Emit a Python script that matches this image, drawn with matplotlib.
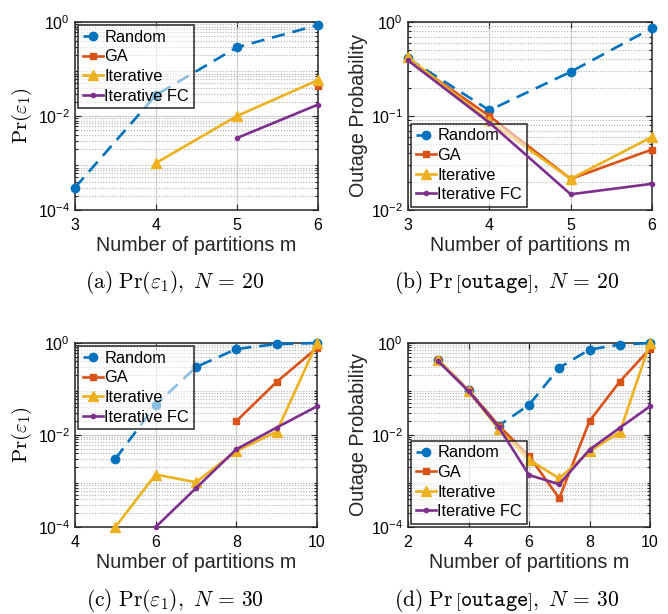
import matplotlib
matplotlib.use("Agg")
import matplotlib.pyplot as plt
from matplotlib.ticker import FixedLocator, FixedFormatter, LogLocator, NullFormatter

plt.rcParams['font.family'] = ['Liberation Sans', 'DejaVu Sans']
plt.rcParams['mathtext.fontset'] = 'custom'
plt.rcParams['mathtext.rm'] = 'Liberation Sans'
plt.rcParams['mathtext.it'] = 'Liberation Sans:italic'
plt.rcParams['mathtext.bf'] = 'Liberation Sans:bold'

# ---------------- data ----------------
series_names = ["Random", "GA", "Iterative", "Iterative FC"]

# (a) Pr(eps1), N=20
a_random_m = [3, 4, 5, 6]
a_random = [3e-4, 0.028, 0.29, 0.86]
a_ga_m = [6]
a_ga = [0.043]
a_iter_m = [4, 5, 6]
a_iter = [1e-3, 0.01, 0.058]
a_fc_m = [5, 6]
a_fc = [0.0034, 0.0175]

# (b) outage, N=20
b_m = [3, 4, 5, 6]
b_random = [0.41, 0.115, 0.295, 0.86]
b_ga = [0.40, 0.10, 0.0214, 0.044]
b_iter = [0.42, 0.088, 0.0214, 0.06]
b_fc = [0.39, 0.085, 0.0147, 0.019]

# (c) Pr(eps1), N=30
c_random_m = [5, 6, 7, 8, 9, 10]
c_random = [0.003, 0.045, 0.30, 0.74, 0.95, 1.0]
c_ga_m = [8, 9, 10]
c_ga = [0.020, 0.143, 0.78]
c_iter_m = [5, 6, 7, 8, 9, 10]
c_iter = [1e-4, 0.00138, 0.00094, 0.0045, 0.0118, 1.0]
c_fc_m = [6, 7, 8, 9, 10]
c_fc = [1e-4, 7e-4, 0.0049, 0.0145, 0.042]

# (d) outage, N=30
d_m = [3, 4, 5, 6, 7, 8, 9, 10]
d_random = [0.42, 0.093, 0.016, 0.045, 0.29, 0.72, 0.92, 1.0]
d_ga = [0.42, 0.093, 0.016, 0.0035, 4.2e-4, 0.02, 0.145, 0.75]
d_iter = [0.43, 0.09, 0.0135, 0.0029, 0.00114, 0.0044, 0.0115, 1.0]
d_fc = [0.40, 0.09, 0.0147, 0.00135, 8.5e-4, 0.0048, 0.0143, 0.042]

xticks_ab = [3, 4, 5, 6]
xticks_c = [4, 6, 8, 10]
xticks_d = [2, 4, 6, 8, 10]
yticks_4dec = [1e-4, 1e-2, 1e0]
yticklabels_4dec = ["$10^{-4}$", "$10^{-2}$", "$10^{0}$"]
yticks_2dec = [1e-2, 1e-1, 1e0]
yticklabels_2dec = ["$10^{-2}$", "$10^{-1}$", "$10^{0}$"]

captions = [r"$\mathrm{(a)\ Pr}(\varepsilon_1),\ N\,=\,20$",
            r"$\mathrm{(b)\ Pr}\,\left[\mathtt{outage}\right],\ N\,=\,20$",
            r"$\mathrm{(c)\ Pr}(\varepsilon_1),\ N\,=\,30$",
            r"$\mathrm{(d)\ Pr}\,\left[\mathtt{outage}\right],\ N\,=\,30$"]

# ---------------- style ----------------
C_BLUE = "#0072BD"
C_ORANGE = "#D95319"
C_YELLOW = "#EDB120"
C_PURPLE = "#7E2F8E"
LW = 1.9

W, H = 668, 614
fig = plt.figure(figsize=(W / 100, H / 100), dpi=100)


def ax_at(l, r, t, b):
    return fig.add_axes([l / W, 1 - b / H, (r - l) / W, (b - t) / H])


def draw(ax, rnd, ga, it, fc):
    ax.plot(*rnd, color=C_BLUE, lw=LW, ls=(0, (5, 3)), marker='o', ms=6,
            label=series_names[0], clip_on=False, zorder=3)
    ax.plot(*ga, color=C_ORANGE, lw=LW, marker='s', ms=5,
            label=series_names[1], clip_on=False, zorder=4)
    ax.plot(*it, color=C_YELLOW, lw=LW, marker='^', ms=7.5,
            label=series_names[2], clip_on=False, zorder=5)
    ax.plot(*fc, color=C_PURPLE, lw=LW, marker='o', ms=3,
            label=series_names[3], clip_on=False, zorder=6)


def style(ax, xlim, xticks, ylim, yticks, yticklabels, ylabel, math_ylabel,
          caption, cap_x, cap_y, legloc):
    ax.set_yscale('log')
    ax.set_xlim(*xlim)
    ax.set_ylim(*ylim)
    ax.xaxis.set_major_locator(FixedLocator(xticks))
    ax.set_xticklabels([str(v) for v in xticks])
    ax.yaxis.set_major_locator(FixedLocator(yticks))
    ax.yaxis.set_major_formatter(FixedFormatter(yticklabels))
    ax.yaxis.set_minor_locator(LogLocator(base=10, subs=range(2, 10), numticks=20))
    ax.yaxis.set_minor_formatter(NullFormatter())
    ax.grid(True, which='major', color='#d0d0d0', lw=0.9, ls='-')
    ax.grid(True, which='minor', axis='y', color='#b0b0b0', lw=0.8, ls=(0, (1, 1.5)))
    ax.set_axisbelow(True)
    ax.tick_params(which='both', direction='in', top=True, right=True,
                   labelsize=11.5, width=0.8, color='#262626')
    ax.tick_params(which='major', length=4)
    ax.tick_params(which='minor', length=2)
    ax.tick_params(axis='x', pad=6)
    for s in ax.spines.values():
        s.set_linewidth(1.1)
        s.set_color('#262626')
    ax.set_xlabel("Number of partitions m", fontsize=14.2, labelpad=2, color='#262626')
    if math_ylabel:
        ax.set_ylabel(ylabel, fontsize=15, math_fontfamily='cm', labelpad=3)
    else:
        ax.set_ylabel(ylabel, fontsize=14.2, labelpad=2, color='#262626')
    fig.text(cap_x / W, 1 - cap_y / H, caption, ha='center', va='center',
             fontsize=15.5, math_fontfamily='cm')
    leg = ax.legend(loc=legloc, fontsize=11.8, handlelength=1.2, handletextpad=0.1,
                    labelspacing=0.28, borderpad=0.28, borderaxespad=0.2,
                    fancybox=False, edgecolor='#262626')
    fr = leg.get_frame()
    fr.set_alpha(None)
    fr.set_facecolor((1, 1, 1, 0.55))
    fr.set_edgecolor('#262626')
    fr.set_linewidth(1.1)


axa = ax_at(75, 318, 22, 210)
draw(axa, (a_random_m, a_random), (a_ga_m, a_ga), (a_iter_m, a_iter), (a_fc_m, a_fc))
style(axa, (3, 6), xticks_ab, (1e-4, 1), yticks_4dec, yticklabels_4dec,
      r"$\mathrm{Pr}(\varepsilon_1)$", True, captions[0], 175, 283, 'upper left')

axb = ax_at(408, 652, 22, 210)
draw(axb, (b_m, b_random), (b_m, b_ga), (b_m, b_iter), (b_m, b_fc))
style(axb, (3, 6), xticks_ab, (1e-2, 1), yticks_2dec, yticklabels_2dec,
      "Outage Probability", False, captions[1], 507, 283, 'lower left')

axc = ax_at(75, 317, 343, 527)
draw(axc, (c_random_m, c_random), (c_ga_m, c_ga), (c_iter_m, c_iter), (c_fc_m, c_fc))
style(axc, (4, 10), xticks_c, (1e-4, 1), yticks_4dec, yticklabels_4dec,
      r"$\mathrm{Pr}(\varepsilon_1)$", True, captions[2], 175, 601, 'upper left')

axd = ax_at(408, 650, 343, 527)
draw(axd, (d_m, d_random), (d_m, d_ga), (d_m, d_iter), (d_m, d_fc))
style(axd, (2, 10), xticks_d, (1e-4, 1), yticks_4dec, yticklabels_4dec,
      "Outage Probability", False, captions[3], 507, 601, 'lower left')

fig.savefig("out.png", dpi=100, facecolor='white')
